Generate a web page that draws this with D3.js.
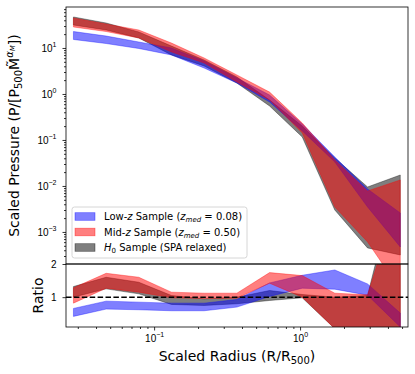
<!DOCTYPE html>
<html>
<head>
<meta charset="utf-8">
<script src="https://cdn.jsdelivr.net/npm/d3@7"></script>
<style>
    body { margin: 0; background: #fff; }
    svg { display: block; font-family: "DejaVu Sans", sans-serif; }
</style>
</head>
<body>
<svg id="chart"></svg>
<script>
// radial bins (R/R500)
const radius = [0.028, 0.0469, 0.0785, 0.1315, 0.220, 0.369, 0.618, 1.035, 1.73, 2.90, 4.86];

// scaled pressure bands (upper / lower edge)
const lowzHi = [22.8, 18.2, 13.5, 10.0, 5.21, 2.23, 0.95, 0.223, 0.0427, 0.0086, 0.00259];
const lowzLo = [15.3, 12.5, 9.75, 7.05, 3.67, 1.73, 0.67, 0.157, 0.0332, 0.00349, 0.000472];
const midzHi = [44.9, 33.2, 24.6, 12.8, 6.06, 2.59, 1.10, 0.234, 0.0367, 0.0078, 0.0135];
const midzLo = [28.6, 22.8, 16.5, 8.19, 4.72, 1.82, 0.741, 0.142, 0.00349, 0.000607, 0.000055];
const h0Hi = [47.2, 34.9, 22.3, 11.0, 5.48, 2.34, 0.741, 0.201, 0.0406, 0.0095, 0.0173];
const h0Lo = [31.6, 24.6, 16.5, 7.05, 4.06, 1.73, 0.548, 0.116, 0.0030, 0.000449, 0.000316];

// ratio bands (upper / lower edge)
const lowzRatioHi = [0.66, 0.88, 0.85, 0.82, 0.82, 0.93, 1.43, 1.66, 1.82, 1.40, 0.52];
const lowzRatioLo = [0.42, 0.64, 0.62, 0.59, 0.59, 0.70, 1.02, 1.27, 1.24, 1.06, 0.10];
const midzRatioHi = [1.28, 1.72, 1.60, 1.15, 1.12, 1.12, 1.74, 1.65, 1.12, 1.07, 4.2];
const midzRatioLo = [0.82, 1.27, 1.15, 0.98, 0.96, 0.97, 1.42, 1.00, 0.05, 0.02, 0.0];
const h0RatioHi = [1.32, 1.60, 1.45, 1.05, 0.95, 1.00, 1.20, 1.08, 1.00, 1.05, 5.0];
const h0RatioLo = [1.00, 1.25, 1.10, 0.78, 0.75, 0.80, 0.90, 0.98, 0.05, 0.02, 0.0];

const pressureTicks = [1e-3, 1e-2, 1e-1, 1, 10];
const ratioTicks = [1, 2];
const radiusTicks = [0.1, 1];

const legendLabels = [
    { color: "blue", parts: [["Low-"], ["z", "i"], [" Sample ("], ["z", "i"], ["med", "si"], [" = 0.08)", "b"]] },
    { color: "red", parts: [["Mid-"], ["z", "i"], [" Sample ("], ["z", "i"], ["med", "si"], [" = 0.50)", "b"]] },
    { color: "black", parts: [["H", "i"], ["0", "s"], [" Sample (SPA relaxed)", "b"]] }
];

const width = 415;
const height = 374;
const left = 66, right = 408;
const topY = 7, midY = 264, bottomY = 327;

const svg = d3.select("#chart").attr("width", width).attr("height", height);

const x = d3.scaleLog().domain([0.0249, 5.49]).range([left, right]);
const y = d3.scaleLog().domain([2.01e-4, 77.8]).range([midY, topY]);
const yr = d3.scaleLinear().domain([0.1, 2]).range([bottomY, midY]);

// clip paths
const defs = svg.append("defs");
defs.append("clipPath").attr("id", "clipTop")
    .append("rect").attr("x", left).attr("y", topY).attr("width", right - left).attr("height", midY - topY);
defs.append("clipPath").attr("id", "clipBot")
    .append("rect").attr("x", left).attr("y", midY).attr("width", right - left).attr("height", bottomY - midY);

function band(hi, lo) {
    return radius.map((r, i) => ({ r: r, hi: hi[i], lo: lo[i] }));
}

function drawBands(g, ys, sets) {
    const area = d3.area()
        .x(d => x(d.r))
        .y0(d => ys(d.lo))
        .y1(d => ys(d.hi));
    sets.forEach(s => {
        g.append("path")
            .datum(band(s.hi, s.lo))
            .attr("d", area)
            .attr("fill", s.color)
            .attr("fill-opacity", 0.5)
            .attr("stroke", s.color)
            .attr("stroke-opacity", 0.5)
            .attr("stroke-width", 0.7);
    });
}

// top panel bands: H0 first, then low-z, then mid-z on top
drawBands(svg.append("g").attr("clip-path", "url(#clipTop)"), y, [
    { color: "black", hi: h0Hi, lo: h0Lo },
    { color: "blue", hi: lowzHi, lo: lowzLo },
    { color: "red", hi: midzHi, lo: midzLo }
]);

const bot = svg.append("g").attr("clip-path", "url(#clipBot)");
drawBands(bot, yr, [
    { color: "black", hi: h0RatioHi, lo: h0RatioLo },
    { color: "blue", hi: lowzRatioHi, lo: lowzRatioLo },
    { color: "red", hi: midzRatioHi, lo: midzRatioLo }
]);

// dashed unity line
bot.append("line")
    .attr("x1", left).attr("x2", right)
    .attr("y1", yr(1)).attr("y2", yr(1))
    .attr("stroke", "black")
    .attr("stroke-width", 1.5)
    .attr("stroke-dasharray", "5.5,2.4");

// minor tick values for log axes
function minorTicks(lo, hi) {
    const out = [];
    for (let e = -5; e <= 3; e++) {
        for (let m = 2; m <= 9; m++) {
            const v = m * Math.pow(10, e);
            if (v > lo && v < hi) out.push(v);
        }
    }
    return out;
}

function powerLabel(sel, d) {
    const e = Math.round(Math.log10(d));
    sel.text(null);
    sel.append("tspan").text("10");
    sel.append("tspan").attr("font-size", 7).attr("dy", -4.5).text(e < 0 ? "\u2212" + (-e) : e);
}

function styleAxis(g) {
    g.select(".domain").remove();
    g.selectAll(".tick line").attr("stroke", "black").attr("stroke-width", 0.8);
    g.selectAll(".tick text").attr("fill", "black").attr("font-size", 10);
}

// top y axis
svg.append("g")
    .attr("transform", `translate(${left},0)`)
    .call(d3.axisLeft(y).tickValues(minorTicks(...y.domain())).tickSize(2).tickFormat(""))
    .call(styleAxis);
svg.append("g")
    .attr("transform", `translate(${left},0)`)
    .call(d3.axisLeft(y).tickValues(pressureTicks).tickSize(3.5).tickPadding(6))
    .call(styleAxis)
    .selectAll(".tick text")
    .each(function (d) { powerLabel(d3.select(this), d); });

// ratio y axis
svg.append("g")
    .attr("transform", `translate(${left},0)`)
    .call(d3.axisLeft(yr).tickValues(ratioTicks).tickSize(3.5).tickPadding(6).tickFormat(d3.format("d")))
    .call(styleAxis);

// bottom x axis
svg.append("g")
    .attr("transform", `translate(0,${bottomY})`)
    .call(d3.axisBottom(x).tickValues(minorTicks(...x.domain())).tickSize(2).tickFormat(""))
    .call(styleAxis);
svg.append("g")
    .attr("transform", `translate(0,${bottomY})`)
    .call(d3.axisBottom(x).tickValues(radiusTicks).tickSize(3.5).tickPadding(4))
    .call(styleAxis)
    .selectAll(".tick text")
    .each(function (d) { powerLabel(d3.select(this), d); });

// frames
[[topY, midY], [midY, bottomY]].forEach(([a, b]) => {
    svg.append("rect")
        .attr("x", left).attr("y", a)
        .attr("width", right - left).attr("height", b - a)
        .attr("fill", "none")
        .attr("stroke", "black")
        .attr("stroke-width", 0.8);
});

// legend
const lg = svg.append("g").attr("transform", "translate(72,207)");
lg.append("rect")
    .attr("width", 175).attr("height", 51)
    .attr("rx", 2.5)
    .attr("fill", "white").attr("fill-opacity", 0.8)
    .attr("stroke", "#cccccc").attr("stroke-width", 0.8);
legendLabels.forEach((item, i) => {
    const cy = 9.5 + i * 15.5;
    lg.append("rect")
        .attr("x", 3).attr("y", cy - 3.8)
        .attr("width", 20).attr("height", 7.6)
        .attr("fill", item.color).attr("fill-opacity", 0.5)
        .attr("stroke", item.color).attr("stroke-opacity", 0.5)
        .attr("stroke-width", 0.7);
    const t = lg.append("text")
        .attr("x", 32).attr("y", cy + 3.6)
        .attr("font-size", 10).attr("fill", "black");
    let shifted = false;
    item.parts.forEach(([str, kind]) => {
        const sp = t.append("tspan").text(str);
        if (kind === "i") sp.attr("font-style", "italic");
        if (kind === "si" || kind === "s") {
            sp.attr("font-size", 7).attr("dy", 2);
            if (kind === "si") sp.attr("font-style", "italic");
            shifted = true;
        }
        if (kind === "b" && shifted) { sp.attr("dy", -2); shifted = false; }
    });
});

// y label (pressure)
const yl = svg.append("text")
    .attr("transform", `translate(19,${(topY + midY) / 2}) rotate(-90)`)
    .attr("text-anchor", "middle")
    .attr("font-size", 14)
    .attr("fill", "black");
yl.append("tspan").text("Scaled Pressure (P/[P");
yl.append("tspan").attr("font-size", 10).attr("dy", 3).text("500");
yl.append("tspan").attr("dy", -3).text("M\u0303");
yl.append("tspan").attr("font-size", 10).attr("dy", -6).attr("font-style", "italic").text("\u03b1");
yl.append("tspan").attr("font-size", 7).attr("dy", 2).attr("font-style", "italic").text("M");
yl.append("tspan").attr("dy", 4).text("])");

// y label (ratio)
svg.append("text")
    .attr("transform", `translate(43,${(midY + bottomY) / 2}) rotate(-90)`)
    .attr("text-anchor", "middle")
    .attr("font-size", 14)
    .attr("fill", "black")
    .text("Ratio");

// x label
const xl = svg.append("text")
    .attr("x", (left + right) / 2).attr("y", 361)
    .attr("text-anchor", "middle")
    .attr("font-size", 14)
    .attr("fill", "black");
xl.append("tspan").text("Scaled Radius (R/R");
xl.append("tspan").attr("font-size", 10).attr("dy", 3).text("500");
xl.append("tspan").attr("dy", -3).text(")");
</script>
</body>
</html>
